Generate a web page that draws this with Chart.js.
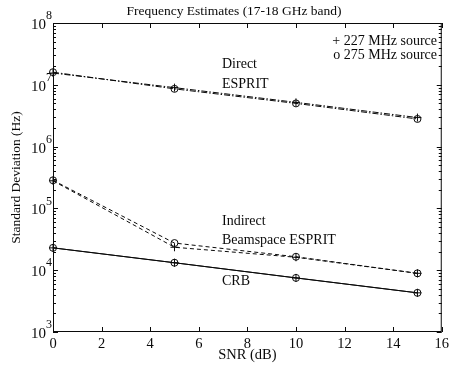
<!DOCTYPE html>
<html>
<head>
<meta charset="utf-8">
<script src="https://cdn.jsdelivr.net/npm/chart.js@4"></script>
<style>
    html, body { margin: 0; padding: 0; background: #fff; }
    #wrap { width: 452px; height: 369px; position: relative; }
</style>
</head>
<body>
<div id="wrap"><canvas id="myChart"></canvas></div>
<script>
// Data
const snr = [0, 5, 10, 15];
const directPlus = [1.55e7, 9.0e6, 5.2e6, 2.95e6];
const directCircle = [1.6e7, 8.6e6, 5.0e6, 2.8e6];
const indirectPlus = [2.8e5, 2.35e4, 1.62e4, 8.9e3];
const indirectCircle = [2.85e5, 2.75e4, 1.65e4, 8.9e3];
const crbPlus = [2.3e4, 1.32e4, 7.5e3, 4.3e3];
const crbCircle = [2.3e4, 1.32e4, 7.5e3, 4.3e3];

const xTicks = [0, 2, 4, 6, 8, 10, 12, 14, 16];
const yDecades = [3, 4, 5, 6, 7, 8];

const serif = "'Liberation Serif', 'Times New Roman', serif";
const ink = '#0a0a0a';

function toPoints(values) {
    return snr.map((x, i) => ({ x: x, y: values[i] }));
}

function series(values, style, dash) {
    return {
        data: toPoints(values),
        borderColor: ink,
        borderWidth: 1,
        borderDash: dash,
        pointStyle: style,
        pointRadius: style === 'cross' ? 4 : 3.5,
        pointBorderWidth: 1,
        pointBorderColor: ink,
        pointBackgroundColor: 'rgba(0,0,0,0)',
        fill: false,
        tension: 0,
        clip: false
    };
}

// Box, inward ticks, superscript labels and texts
const decorations = {
    id: 'decorations',
    afterDraw(chart) {
        const ctx = chart.ctx;
        const area = chart.chartArea;
        const xs = chart.scales.x;
        const ys = chart.scales.y;
        ctx.save();
        ctx.strokeStyle = ink;
        ctx.lineWidth = 1;
        ctx.strokeRect(area.left + 0.5, area.top + 0.5, area.right - area.left - 1, area.bottom - area.top - 1);

        ctx.beginPath();
        xTicks.forEach(v => {
            const px = Math.round(xs.getPixelForValue(v)) + 0.5;
            ctx.moveTo(px, area.bottom);
            ctx.lineTo(px, area.bottom - 5);
            ctx.moveTo(px, area.top);
            ctx.lineTo(px, area.top + 5);
        });
        yDecades.forEach(e => {
            const py = Math.round(ys.getPixelForValue(Math.pow(10, e))) + 0.5;
            ctx.moveTo(area.left, py);
            ctx.lineTo(area.left + 5, py);
            ctx.moveTo(area.right, py);
            ctx.lineTo(area.right - 5, py);
            if (e < 8) {
                for (let m = 2; m <= 9; m++) {
                    const my = Math.round(ys.getPixelForValue(m * Math.pow(10, e))) + 0.5;
                    ctx.moveTo(area.left, my);
                    ctx.lineTo(area.left + 3, my);
                    ctx.moveTo(area.right, my);
                    ctx.lineTo(area.right - 3, my);
                }
            }
        });
        ctx.stroke();

        // y tick labels as 10^n
        ctx.fillStyle = ink;
        ctx.textBaseline = 'middle';
        yDecades.forEach(e => {
            const py = ys.getPixelForValue(Math.pow(10, e));
            ctx.font = '15px ' + serif;
            ctx.textAlign = 'right';
            ctx.fillText('10', 46, py + 2);
            ctx.font = '12px ' + serif;
            ctx.textAlign = 'left';
            ctx.fillText(String(e), 46, py - 7);
        });

        // title
        ctx.font = '13.5px ' + serif;
        ctx.textAlign = 'center';
        ctx.fillText('Frequency Estimates (17-18 GHz band)', 234, 11);

        // legend
        ctx.font = '14px ' + serif;
        ctx.textAlign = 'right';
        ctx.fillText('+ 227 MHz source', 437, 41);
        ctx.fillText('o 275 MHz source', 437, 55);

        // curve labels
        ctx.textAlign = 'left';
        ctx.fillText('Direct', 222, 64);
        ctx.fillText('ESPRIT', 222, 84);
        ctx.fillText('Indirect', 222, 221);
        ctx.fillText('Beamspace ESPRIT', 222, 240);
        ctx.fillText('CRB', 222, 281);
        ctx.restore();
    }
};

const ctx = document.getElementById('myChart').getContext('2d');
const chart = new Chart(ctx, {
    type: 'line',
    data: {
        datasets: [
            series(directPlus, 'cross', [6, 2, 1.5, 2]),
            series(directCircle, 'circle', [6, 2, 1.5, 2]),
            series(indirectPlus, 'cross', [4, 3]),
            series(indirectCircle, 'circle', [4, 3]),
            series(crbPlus, 'cross', []),
            series(crbCircle, 'circle', [])
        ]
    },
    options: {
        responsive: true,
        maintainAspectRatio: false,
        animation: false,
        layout: { padding: { left: 0, right: 7, top: 23, bottom: 0 } },
        plugins: {
            legend: { display: false },
            title: { display: false },
            tooltip: { enabled: false }
        },
        scales: {
            x: {
                type: 'linear',
                min: 0,
                max: 16,
                offset: false,
                grid: { display: false, drawTicks: false },
                border: { display: false },
                ticks: {
                    stepSize: 2,
                    padding: 3,
                    color: ink,
                    maxRotation: 0,
                    font: { family: serif, size: 14.5 }
                },
                title: {
                    display: true,
                    text: 'SNR (dB)',
                    color: ink,
                    font: { family: serif, size: 14.5 },
                    padding: { top: 0, bottom: 5 }
                },
                afterFit(scale) { scale.height = 37; }
            },
            y: {
                type: 'logarithmic',
                min: 1e3,
                max: 1e8,
                grid: { display: false },
                border: { display: false },
                ticks: { display: false },
                title: {
                    display: true,
                    text: 'Standard Deviation (Hz)',
                    color: ink,
                    font: { family: serif, size: 13.5 },
                    padding: { top: 8, bottom: 0 }
                },
                afterFit(scale) { scale.width = 53; }
            }
        }
    },
    plugins: [decorations]
});
</script>
</body>
</html>
